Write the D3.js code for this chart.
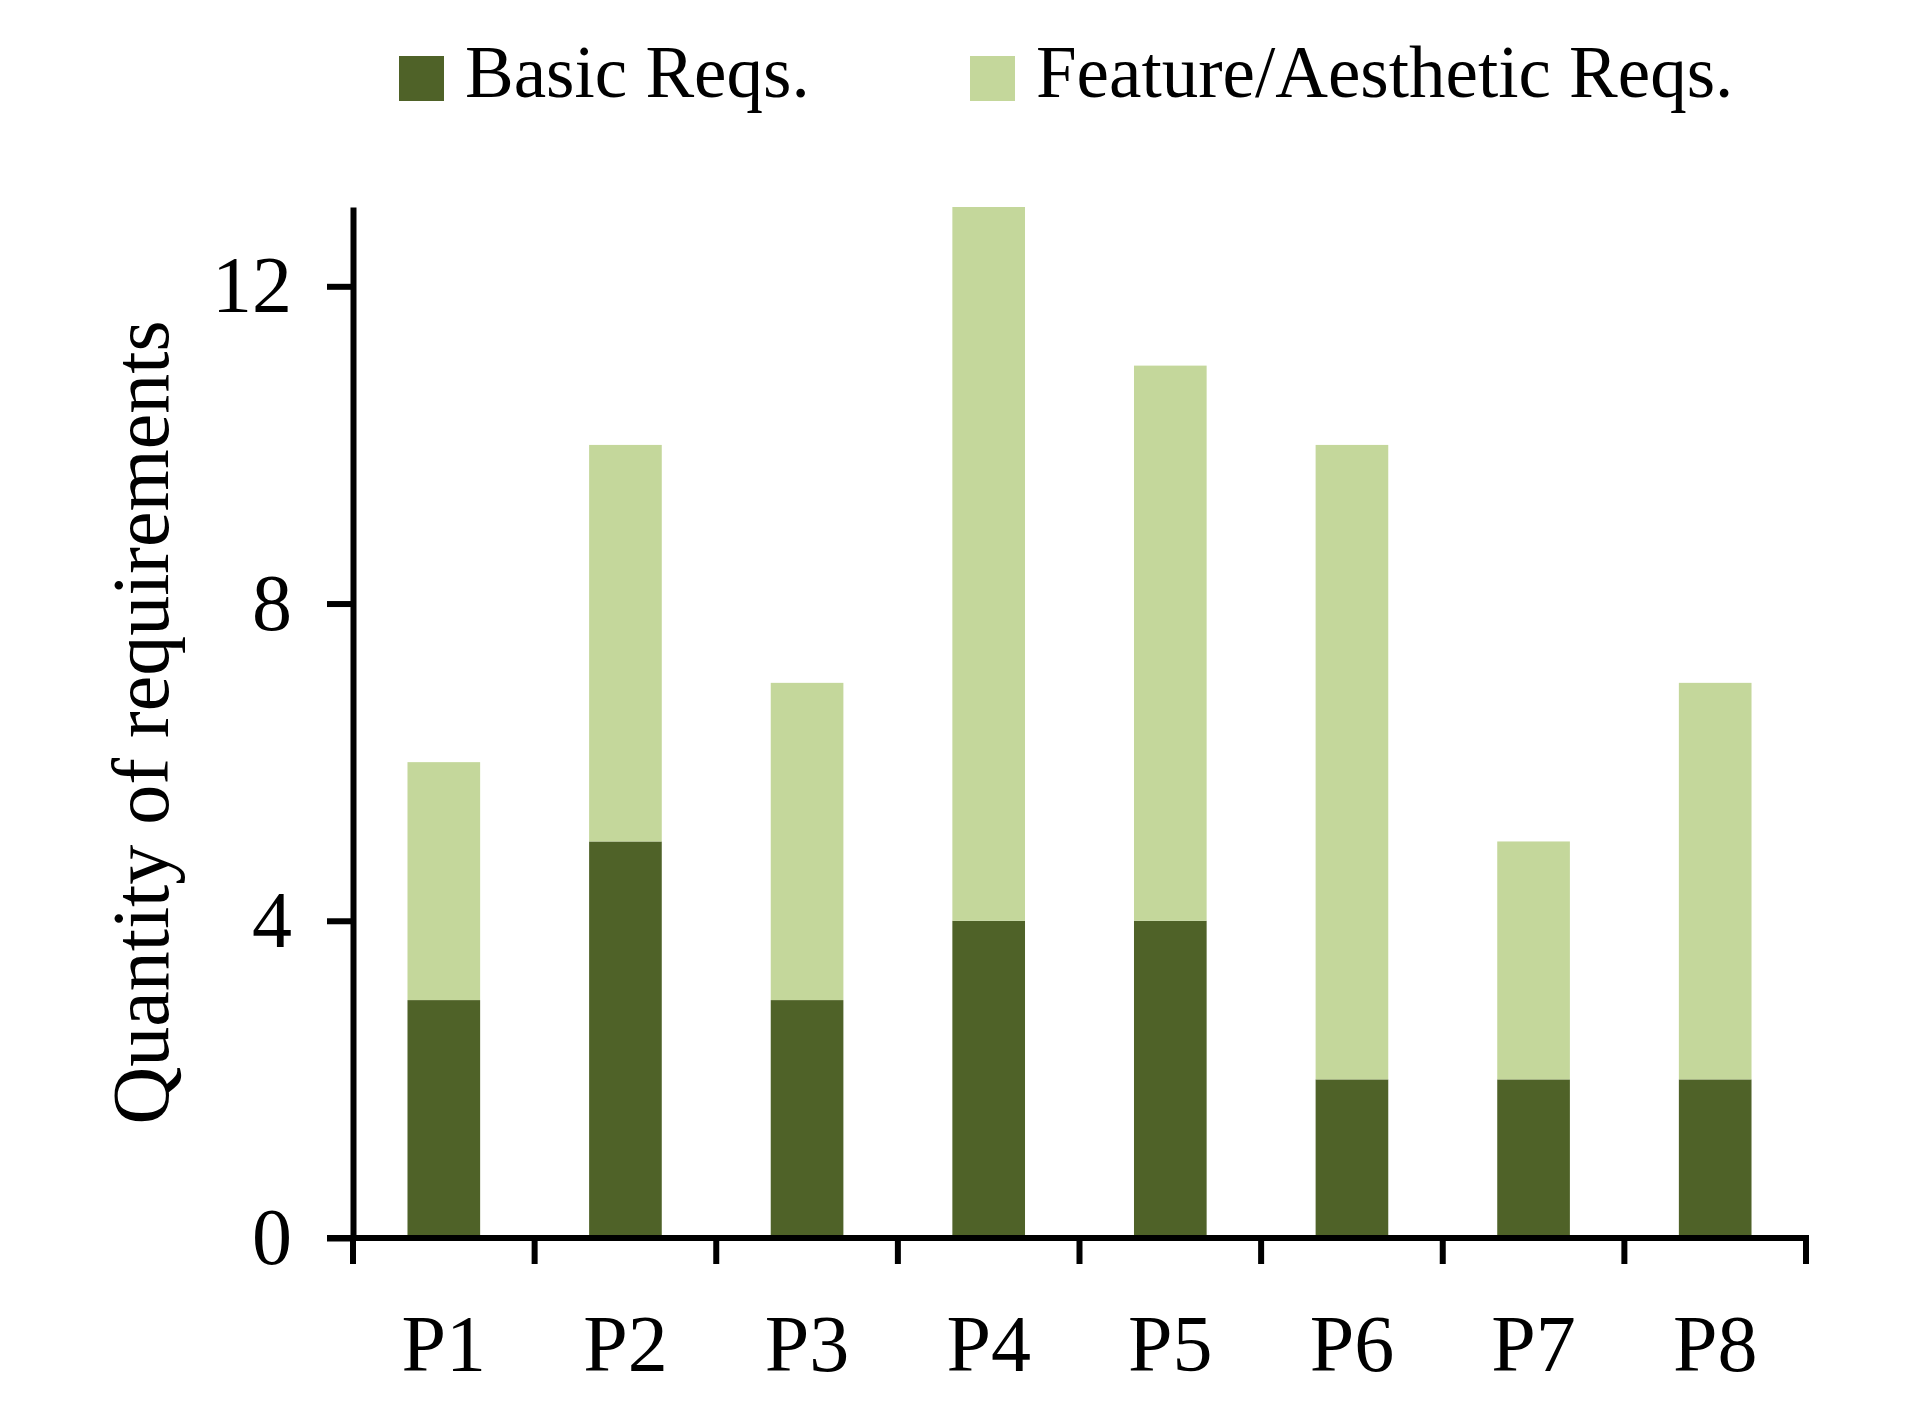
<!DOCTYPE html>
<html>
<head>
<meta charset="utf-8">
<script src="https://cdn.jsdelivr.net/npm/d3@7"></script>
<style>
  body { margin: 0; background: #fff; }
  svg text { font-family: 'Liberation Serif', 'Times New Roman', serif; fill: #000; }
</style>
</head>
<body>
<div id="chart"></div>
<script>
// --- Data ---
const participants = ['P1', 'P2', 'P3', 'P4', 'P5', 'P6', 'P7', 'P8'];
const basicReqs = [3, 5, 3, 4, 4, 2, 2, 2];
const featureReqs = [3, 5, 4, 9, 7, 8, 3, 5];
const seriesNames = ['Basic Reqs.', 'Feature/Aesthetic Reqs.'];
const seriesColors = ['#4F6228', '#C4D79B'];
const yTicks = [0, 4, 8, 12];

// --- Layout ---
const W = 1920, H = 1410;
const plot = {left: 353, right: 1806, top: 207, bottom: 1238};

const svg = d3.select('#chart').append('svg')
    .attr('width', W).attr('height', H);

const x = d3.scaleBand().domain(participants).range([plot.left, plot.right]).padding(0);
const y = d3.scaleLinear().domain([0, 13]).range([plot.bottom, plot.top]);

// stacked rows built from the arrays
const rows = participants.map((p, i) => ({p, basic: basicReqs[i], feature: featureReqs[i]}));
const stack = d3.stack().keys(['basic', 'feature'])(rows);

const barW = x.bandwidth() * 0.4;

stack.forEach((layer, k) => {
    svg.append('g').selectAll('rect')
        .data(layer)
        .join('rect')
        .attr('x', d => x(d.data.p) + (x.bandwidth() - barW) / 2)
        .attr('width', barW)
        .attr('y', d => y(d[1]))
        .attr('height', d => y(d[0]) - y(d[1]))
        .attr('fill', seriesColors[k]);
});

// --- Y axis ---
const yAxis = svg.append('g')
    .attr('transform', `translate(${plot.left},0)`)
    .call(d3.axisLeft(y).tickValues(yTicks).tickSize(26).tickSizeOuter(0).tickPadding(35));
yAxis.select('.domain').attr('stroke', '#000').attr('stroke-width', 6);
yAxis.selectAll('.tick line').attr('stroke', '#000').attr('stroke-width', 6);
yAxis.selectAll('.tick text')
    .style('font-family', "'Liberation Serif', 'Times New Roman', serif")
    .style('font-size', '80px').attr('fill', '#000');

// --- X axis ---
const xAxis = svg.append('g')
    .attr('transform', `translate(0,${plot.bottom})`)
    .call(d3.axisBottom(x).tickSize(0).tickSizeOuter(0));
xAxis.select('.domain').attr('stroke', '#000').attr('stroke-width', 6)
    .attr('d', `M${plot.left - 26},0H${plot.right + 3}`);
xAxis.selectAll('.tick text')
    .attr('y', 133).attr('dy', 0)
    .style('font-family', "'Liberation Serif', 'Times New Roman', serif")
    .style('font-size', '80px').attr('fill', '#000');

// boundary ticks between categories
const bounds = participants.map(p => x(p)).concat([x(participants[participants.length - 1]) + x.bandwidth()]);
xAxis.append('g').selectAll('line')
    .data(bounds)
    .join('line')
    .attr('x1', d => d).attr('x2', d => d)
    .attr('y1', 0).attr('y2', 26)
    .attr('stroke', '#000').attr('stroke-width', 6);

// --- Y label ---
svg.append('text')
    .attr('transform', `translate(168,${(plot.top + plot.bottom) / 2}) rotate(-90)`)
    .attr('text-anchor', 'middle')
    .style('font-size', '80px')
    .text('Quantity of requirements');

// --- Legend ---
const legendX = [399, 970];
const legend = svg.append('g');
seriesNames.forEach((name, i) => {
    legend.append('rect')
        .attr('x', legendX[i]).attr('y', 56)
        .attr('width', 45).attr('height', 45)
        .attr('fill', seriesColors[i]);
    legend.append('text')
        .attr('x', legendX[i] + 66).attr('y', 97)
        .style('font-size', '73px')
        .text(name);
});
</script>
</body>
</html>
